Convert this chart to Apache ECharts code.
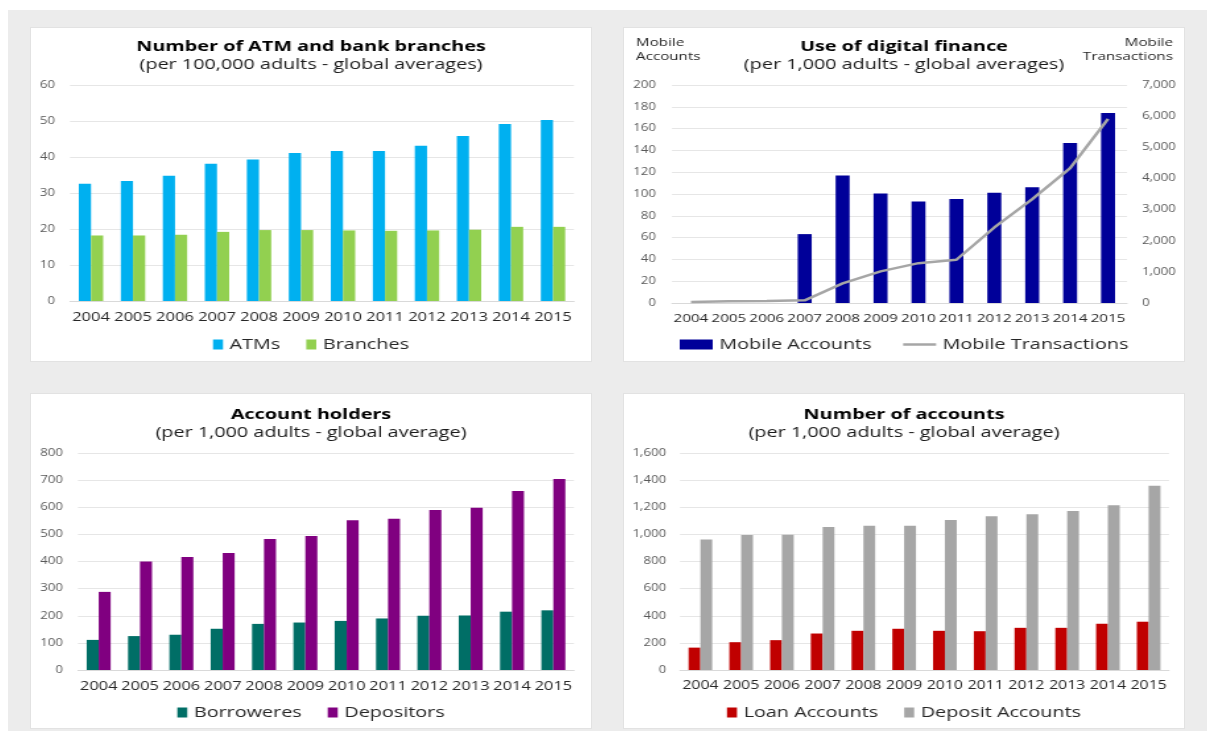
<!DOCTYPE html>
<html>
<head>
<meta charset="utf-8">
<script src="https://cdn.jsdelivr.net/npm/echarts@6/dist/echarts.min.js"></script>
<style>
html,body{margin:0;padding:0;width:1207px;height:731px;background:#fff;overflow:hidden;}
#bg{position:absolute;left:8px;top:10px;width:1199px;height:721px;background:#ececec;}
.panel{position:absolute;background:#fff;border:1px solid #e2e2e2;box-sizing:border-box;}
.chart{position:absolute;width:426px;transform:scaleX(1.31925);transform-origin:0 0;}
</style>
</head>
<body>
<div id="bg"></div>
<div class="panel" style="left:30px;top:27px;width:562px;height:335px;"></div>
<div class="panel" style="left:623px;top:27px;width:562px;height:335px;"></div>
<div class="panel" style="left:30px;top:393px;width:562px;height:336px;"></div>
<div class="panel" style="left:623px;top:393px;width:562px;height:336px;"></div>
<div class="chart" id="p1" style="left:30px;top:27px;height:335px;"></div>
<div class="chart" id="p2" style="left:623px;top:27px;height:335px;"></div>
<div class="chart" id="p3" style="left:30px;top:393px;height:336px;"></div>
<div class="chart" id="p4" style="left:623px;top:393px;height:336px;"></div>
<script>
const years = ['2004','2005','2006','2007','2008','2009','2010','2011','2012','2013','2014','2015'];

const atms = [32.6, 33.3, 34.8, 38.1, 39.3, 41.1, 41.7, 41.7, 43.1, 45.8, 49.2, 50.3];
const branches = [18.2, 18.2, 18.4, 19.2, 19.7, 19.7, 19.6, 19.5, 19.6, 19.8, 20.6, 20.6];

const mobileAccounts = [null, null, null, 63.2, 117, 100.5, 93.1, 95.3, 101.1, 106.3, 146.9, 174.4];
const mobileTransactions = [32, 53, 64, 85, 630, 1015, 1280, 1390, 2425, 3335, 4330, 5910];

const borrowers = [111, 125, 130, 152, 170, 175, 181, 190, 200, 201, 215, 220];
const depositors = [288, 400, 417, 431, 483, 494, 552, 558, 590, 598, 660, 704];

const loanAccounts = [165, 205, 220, 269, 289, 304, 289, 286, 311, 311, 341, 356];
const depositAccounts = [963, 995, 998, 1054, 1064, 1064, 1106, 1133, 1148, 1173, 1215, 1358];

// charts are drawn in a narrower box and stretched horizontally by S (as in the reference)
const S = 1.31925;
const h = px => px / S;

const FONT = '"Open Sans", "Noto Sans", sans-serif';
const fmt = v => v.toLocaleString('en-US');

function titleBlock(main, sub, top, gap) {
  return {
    text: main, subtext: sub, left: 'center', top: top, itemGap: gap,
    textStyle: {fontFamily: FONT, fontSize: 15, fontWeight: 'bold', color: '#000'},
    subtextStyle: {fontFamily: FONT, fontSize: 15, color: '#1a1a1a'}
  };
}
function xAxisCfg(margin, size) {
  return {
    type: 'category', data: years,
    axisLine: {lineStyle: {color: '#d9d9d9'}}, axisTick: {show: false},
    axisLabel: {fontFamily: FONT, fontSize: size, color: '#262626', margin: margin, interval: 0}
  };
}
function yAxisCfg(min, max, interval, margin, extra) {
  return Object.assign({
    type: 'value', min: min, max: max, interval: interval,
    axisLine: {show: false}, axisTick: {show: false},
    axisLabel: {fontFamily: FONT, fontSize: 10, color: '#595959', margin: margin, formatter: v => fmt(v)},
    splitLine: {lineStyle: {color: '#e6e6e6'}}
  }, extra || {});
}
function legendCfg(top, data) {
  return {
    top: top, left: 'center', itemWidth: h(10), itemHeight: 10, itemGap: h(26), icon: 'rect',
    data: data,
    textStyle: {fontFamily: FONT, fontSize: 15, color: '#262626'}
  };
}
function cornerText(text, side, top) {
  const el = {type: 'text', top: top, style: {text: text, fontFamily: FONT, fontSize: 11.5, fill: '#262626'}};
  if (side === 'left') el.left = h(13); else el.right = h(12);
  return el;
}

// Panel 1
echarts.init(document.getElementById('p1')).setOption({
  animation: false,
  title: titleBlock('Number of ATM and bank branches', '(per 100,000 adults - global averages)', 7, 3),
  grid: {left: h(40), right: h(18), top: 58, bottom: 61},
  xAxis: xAxisCfg(10, 12.5),
  yAxis: yAxisCfg(0, 60, 10, h(15)),
  legend: legendCfg(305, ['ATMs', 'Branches']),
  series: [
    {name: 'ATMs', type: 'bar', data: atms, itemStyle: {color: '#00b0f0'}, barGap: '0%', barCategoryGap: '42%'},
    {name: 'Branches', type: 'bar', data: branches, itemStyle: {color: '#92d050'}}
  ]
});

// Panel 2
echarts.init(document.getElementById('p2')).setOption({
  animation: false,
  title: titleBlock('Use of digital finance', '(per 1,000 adults - global averages)', 7, 3),
  grid: {left: h(49), right: h(58), top: 58, bottom: 59},
  xAxis: xAxisCfg(9.5, 11.5),
  yAxis: [
    yAxisCfg(0, 200, 20, h(16)),
    yAxisCfg(0, 7000, 1000, h(15), {position: 'right', splitLine: {show: false}})
  ],
  legend: {
    top: 305, left: 'center', itemGap: h(30),
    data: [
      {name: 'Mobile Accounts', icon: 'rect', itemStyle: {color: '#000099'}},
      {name: 'Mobile Transactions', itemStyle: {opacity: 0, borderWidth: 0}, lineStyle: {color: '#a6a6a6', width: 2.5}}
    ],
    itemWidth: h(33), itemHeight: 10,
    textStyle: {fontFamily: FONT, fontSize: 15, color: '#262626'}
  },
  graphic: [
    cornerText('Mobile', 'left', 10),
    cornerText('Accounts', 'left', 24),
    cornerText('Mobile', 'right', 10),
    cornerText('Transactions', 'right', 24)
  ],
  series: [
    {name: 'Mobile Accounts', type: 'bar', data: mobileAccounts, itemStyle: {color: '#000099'}, barWidth: h(14)},
    {name: 'Mobile Transactions', type: 'line', yAxisIndex: 1, data: mobileTransactions, symbol: 'none',
     lineStyle: {color: '#a6a6a6', width: 2.5}, itemStyle: {color: '#a6a6a6'}}
  ]
});

// Panel 3
echarts.init(document.getElementById('p3')).setOption({
  animation: false,
  title: titleBlock('Account holders', '(per 1,000 adults - global average)', 9, 3),
  grid: {left: h(48), right: h(18), top: 60, bottom: 59},
  xAxis: xAxisCfg(10, 12.5),
  yAxis: yAxisCfg(0, 800, 100, h(15)),
  legend: legendCfg(307, ['Borroweres', 'Depositors']),
  series: [
    {name: 'Borroweres', type: 'bar', data: borrowers, itemStyle: {color: '#006e66'}, barGap: '0%', barCategoryGap: '42%'},
    {name: 'Depositors', type: 'bar', data: depositors, itemStyle: {color: '#800080'}}
  ]
});

// Panel 4
echarts.init(document.getElementById('p4')).setOption({
  animation: false,
  title: titleBlock('Number of accounts', '(per 1,000 adults - global average)', 9, 3),
  grid: {left: h(57), right: h(16), top: 60, bottom: 59},
  xAxis: xAxisCfg(10, 12),
  yAxis: yAxisCfg(0, 1600, 200, h(14)),
  legend: legendCfg(307, ['Loan Accounts', 'Deposit Accounts']),
  series: [
    {name: 'Loan Accounts', type: 'bar', data: loanAccounts, itemStyle: {color: '#c00000'}, barGap: '0%', barCategoryGap: '42%'},
    {name: 'Deposit Accounts', type: 'bar', data: depositAccounts, itemStyle: {color: '#a6a6a6'}}
  ]
});
</script>
</body>
</html>
